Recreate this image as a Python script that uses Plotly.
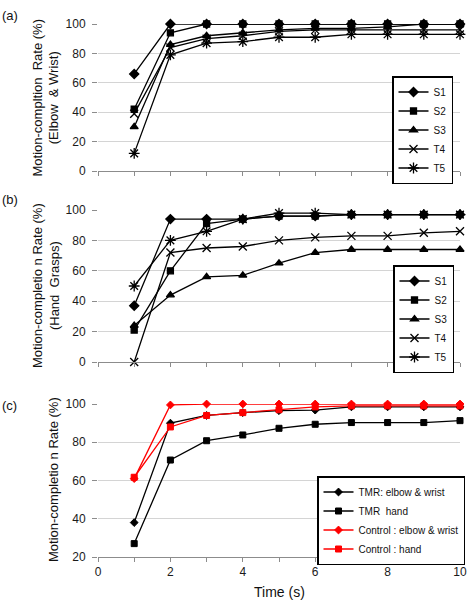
import plotly.graph_objects as go

time = [1, 2, 3, 4, 5, 6, 7, 8, 9, 10]

# Panel (a): Elbow & Wrist
a_S1 = [66, 100, 100, 100, 100, 100, 100, 100, 100, 100]
a_S2 = [42, 94, 100, 100, 100, 100, 100, 100, 100, 100]
a_S3 = [30, 86, 92, 94, 96, 97, 97, 98, 100, 100]
a_T4 = [39, 84, 90, 92, 95, 96, 96, 96, 96, 96]
a_T5 = [12, 79, 87, 88, 91, 91, 93, 93, 93, 93]

# Panel (b): Hand Grasps
b_S1 = [37, 94, 94, 94, 96, 96, 97, 97, 97, 97]
b_S2 = [21, 60, 91, 94, 96, 96, 97, 97, 97, 97]
b_S3 = [24, 44, 56, 57, 65, 72, 74, 74, 74, 74]
b_T4 = [0, 72, 75, 76, 80, 82, 83, 83, 85, 86]
b_T5 = [50, 80, 86, 94, 98, 98, 97, 97, 97, 97]

# Panel (c): averages
c_tmr_ew = [38, 90, 94, 95.5, 96.5, 96.8, 98.5, 98.5, 98.5, 98.5]
c_tmr_hand = [27, 70.7, 80.8, 83.8, 87.3, 89.4, 90.3, 90.3, 90.3, 91.3]
c_ctl_ew = [61, 99.5, 100, 100, 100, 100, 100, 100, 100, 100]
c_ctl_hand = [61.7, 88, 94, 95.5, 97, 98.5, 99, 99, 99, 99]

subject_names = ["S1", "S2", "S3", "T4", "T5"]
group_names = ["TMR: elbow & wrist", "TMR  hand", "Control : elbow & wrist", "Control : hand"]
x_tickvals = [0, 1, 2, 3, 4, 5, 6, 7, 8, 9, 10]
x_ticktext = ["0", "", "2", "", "4", "", "6", "", "8", "", "10"]
y_ticks_ab = [0, 20, 40, 60, 80, 100]
y_ticks_c = [20, 40, 60, 80, 100]

FONT = "Liberation Sans, Arial, sans-serif"
W, H = 468, 600
px_x = lambda p: p / W
px_y = lambda p: 1 - p / H

symbols = ["diamond", "square", "triangle-up", "x-thin-open", "asterisk-open"]
sizes = [7, 6, 7, 8, 9]

fig = go.Figure()

def add_subject(xa, ya, vals, legend):
    for name, v, s, sz in zip(subject_names, vals, symbols, sizes):
        fig.add_trace(go.Scatter(
            x=time, y=v, name=name, mode="lines+markers",
            xaxis=xa, yaxis=ya, legend=legend, cliponaxis=False,
            line=dict(color="black", width=1.3),
            marker=dict(symbol=s, size=sz, color="black",
                        line=dict(color="black", width=1.3)),
        ))

add_subject("x", "y", [a_S1, a_S2, a_S3, a_T4, a_T5], "legend")
add_subject("x2", "y2", [b_S1, b_S2, b_S3, b_T4, b_T5], "legend2")

c_vals = [c_tmr_ew, c_tmr_hand, c_ctl_ew, c_ctl_hand]
c_colors = ["black", "black", "#ff0000", "#ff0000"]
c_syms = ["diamond", "square", "diamond", "square"]
for name, v, col, s in zip(group_names, c_vals, c_colors, c_syms):
    fig.add_trace(go.Scatter(
        x=time, y=v, name=name, mode="lines+markers",
        xaxis="x3", yaxis="y3", legend="legend3", cliponaxis=False,
        line=dict(color=col, width=1.3),
        marker=dict(symbol=s, size=6, color=col, line=dict(color=col, width=1)),
    ))

xdom = [px_x(98), px_x(460)]
doms = {
    "a": [px_y(171), px_y(24)],
    "b": [px_y(362), px_y(210)],
    "c": [px_y(557), px_y(404)],
}

grid = "#d4d4d4"
axcol = "#8c8c8c"
tickfont = dict(family=FONT, size=12, color="#1a1a1a")

def xaxis(anchor, labels):
    return dict(domain=xdom, anchor=anchor, range=[0, 10], showgrid=False,
                zeroline=False, showline=True, linecolor=axcol, linewidth=1,
                ticks="outside", ticklen=4, tickcolor=axcol, tickwidth=1,
                tickvals=x_tickvals, ticktext=x_ticktext if labels else [""] * len(x_tickvals),
                showticklabels=labels, tickfont=tickfont, ticklabelstandoff=0,
                automargin=False, fixedrange=True)

def yaxis(anchor, dom, rng, tv):
    return dict(domain=dom, anchor=anchor, range=rng, tickvals=tv,
                showgrid=True, gridcolor=grid, gridwidth=1, zeroline=False,
                showline=False, ticks="outside", ticklen=5, tickcolor=axcol,
                tickfont=tickfont, ticklabelstandoff=4, automargin=False,
                fixedrange=True)

legend_common = dict(bgcolor="white", bordercolor="black", borderwidth=1.5,
                     font=dict(family=FONT, size=10, color="#111"),
                     xanchor="left", yanchor="top", itemwidth=30,
                     tracegroupgap=0)

fig.update_layout(
    width=W, height=H,
    margin=dict(l=0, r=0, t=0, b=0, autoexpand=False),
    paper_bgcolor="white", plot_bgcolor="white",
    font=dict(family=FONT, color="#111"),
    xaxis=xaxis("y", False),
    yaxis=yaxis("x", doms["a"], [0, 100], y_ticks_ab),
    xaxis2=xaxis("y2", False),
    yaxis2=yaxis("x2", doms["b"], [0, 100], y_ticks_ab),
    xaxis3=xaxis("y3", True),
    yaxis3=yaxis("x3", doms["c"], [20, 100], y_ticks_c),
    legend=dict(legend_common, x=px_x(392), y=px_y(76)),
    legend2=dict(legend_common, x=px_x(393), y=px_y(265)),
    legend3=dict(legend_common, x=px_x(317), y=px_y(476)),
    showlegend=True,
)

ann_font = dict(family=FONT, size=13, color="#111")
annotations = [
    dict(text="(a)", x=0, y=px_y(15), xanchor="left", yanchor="middle"),
    dict(text="(b)", x=0, y=px_y(200), xanchor="left", yanchor="middle"),
    dict(text="(c)", x=0, y=px_y(405), xanchor="left", yanchor="middle"),
    dict(text="Motion-compltion  Rate (%)<br>(Elbow  & Wrist)", x=px_x(46), y=px_y(97.5),
         xanchor="center", yanchor="middle", textangle=-90),
    dict(text="Motion-completio n Rate (%)<br>(Hand  Grasps)", x=px_x(46), y=px_y(286),
         xanchor="center", yanchor="middle", textangle=-90),
    dict(text="Motion-completio n Rate (%)", x=px_x(53), y=px_y(480),
         xanchor="center", yanchor="middle", textangle=-90),
    dict(text="Time (s)", x=px_x(279), y=px_y(592), xanchor="center", yanchor="middle",
         font=dict(family=FONT, size=14, color="#111")),
]
for a in annotations:
    a.setdefault("font", ann_font)
    a.update(xref="paper", yref="paper", showarrow=False)
fig.update_layout(annotations=annotations)

fig.write_html(
    "out.html",
    config={"displayModeBar": False},
    post_script="document.body.style.margin='0px';document.body.style.overflow='hidden';",
)
